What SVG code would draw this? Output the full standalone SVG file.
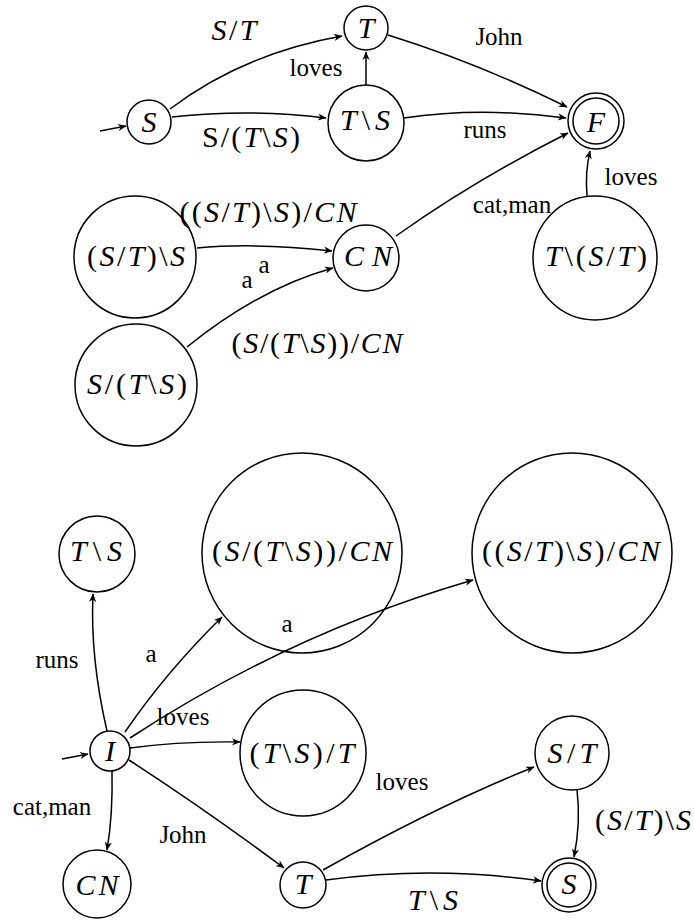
<svg xmlns="http://www.w3.org/2000/svg" width="694" height="920" viewBox="0 0 694 920">
<defs>
<marker id="ar" markerWidth="12" markerHeight="10" refX="0" refY="0" viewBox="-10 -5 12 10" orient="auto" markerUnits="userSpaceOnUse">
<path d="M0.5,0 L-8,-3.6 L-5.5,0 L-8,3.6 Z" fill="#000"/>
</marker>
<style>
.n{fill:none;stroke:#000;stroke-width:1.5}
.e{fill:none;stroke:#000;stroke-width:1.5;marker-end:url(#ar)}
.m{font-family:"Liberation Serif","Times New Roman",serif;font-style:italic;font-size:30px;fill:#000;text-anchor:middle}
.u{font-style:normal}
.t{font-family:"Liberation Serif","Times New Roman",serif;font-size:25px;fill:#000;text-anchor:middle}
</style>
</defs>
<rect width="694" height="920" fill="#fff"/>

<g id="connectors">
<path class="e" d="M100,131 L126,126"/>
<path class="e" d="M170,109 Q243.5,53.5 342,36"/>
<path class="e" d="M172,117 Q250.5,108.5 326,118"/>
<path class="e" d="M366,85 L366,52"/>
<path class="e" d="M388,35 Q478,63 567,107"/>
<path class="e" d="M404,118 Q481,106.5 566,118"/>
<path class="e" d="M396,236 Q475,180 568,133"/>
<path class="e" d="M587,196 Q585,172 590,151"/>
<path class="e" d="M197,248 Q255.5,242.5 332,251"/>
<path class="e" d="M187,347 Q260,288 333,268"/>

<path class="e" d="M62,759 L88,754"/>
<path class="e" d="M107,731 Q90,657.5 93,594"/>
<path class="e" d="M125,732 Q166.5,671.5 222,617"/>
<path class="e" d="M130,738 Q290.5,633 473,580"/>
<path class="e" d="M130,748 Q181,741 240,742"/>
<path class="e" d="M112,771 Q113,815 107,850"/>
<path class="e" d="M129,760 Q206,810 284,868"/>
<path class="e" d="M323,870 Q438,805.5 534,767"/>
<path class="e" d="M326,880 Q433,865.5 541,881"/>
<path class="e" d="M577,790 Q581,822 574,857"/>
</g>

<g id="edge-labels">
<text class="m" x="234" y="40" textLength="45">S<tspan class="u">/</tspan>T</text>
<text class="m" x="251" y="147" textLength="98"><tspan class="u">S/(</tspan>T<tspan class="u">\</tspan>S<tspan class="u">)</tspan></text>
<text class="t" x="316" y="76">loves</text>
<text class="t" x="499" y="45">John</text>
<text class="t" x="485" y="138">runs</text>
<text class="t" x="631" y="185">loves</text>
<text class="t" x="512" y="213">cat,man</text>
<text class="m" x="268" y="222" textLength="177"><tspan class="u">((</tspan>S<tspan class="u">/</tspan>T<tspan class="u">)\</tspan>S<tspan class="u">)/</tspan>CN</text>
<text class="t" x="247" y="288">a</text>
<text class="t" x="264" y="273">a</text>
<text class="m" x="317" y="353" textLength="171"><tspan class="u">(</tspan>S<tspan class="u">/(</tspan>T<tspan class="u">\</tspan>S<tspan class="u">))/</tspan>CN</text>

<text class="t" x="57" y="668">runs</text>
<text class="t" x="151" y="662">a</text>
<text class="t" x="287" y="632">a</text>
<text class="t" x="183" y="725">loves</text>
<text class="t" x="402" y="790">loves</text>
<text class="t" x="52" y="815">cat,man</text>
<text class="t" x="183" y="843">John</text>
<text class="m" x="643" y="830" textLength="96"><tspan class="u">(</tspan>S<tspan class="u">/</tspan>T<tspan class="u">)\</tspan>S</text>
<text class="m" x="433" y="910" textLength="50">T<tspan class="u">\</tspan>S</text>
</g>

<g id="node-S"><circle class="n" cx="149" cy="122" r="22"/><text class="m" x="149" y="132">S</text></g>
<g id="node-T"><circle class="n" cx="366" cy="28" r="22"/><text class="m" x="366" y="38">T</text></g>
<g id="node-TbS"><circle class="n" cx="366" cy="123" r="38"/><text class="m" x="365" y="130" textLength="50">T<tspan class="u">\</tspan>S</text></g>
<g id="node-F"><circle class="n" cx="596" cy="121" r="28"/><circle class="n" cx="596" cy="121" r="23"/><text class="m" x="596" y="132">F</text></g>
<g id="node-STbS"><circle class="n" cx="135" cy="257" r="61"/><text class="m" x="136" y="266" textLength="98"><tspan class="u">(</tspan>S<tspan class="u">/</tspan>T<tspan class="u">)\</tspan>S</text></g>
<g id="node-CN"><circle class="n" cx="366" cy="258" r="33"/><text class="m" x="368" y="266" textLength="48">CN</text></g>
<g id="node-SsTbS"><circle class="n" cx="136" cy="385" r="61"/><text class="m" x="137" y="394" textLength="100">S<tspan class="u">/(</tspan>T<tspan class="u">\</tspan>S<tspan class="u">)</tspan></text></g>
<g id="node-TbST"><circle class="n" cx="595" cy="258" r="62"/><text class="m" x="596" y="266" textLength="102">T<tspan class="u">\(</tspan>S<tspan class="u">/</tspan>T<tspan class="u">)</tspan></text></g>

<g id="node-I"><circle class="n" cx="110" cy="751" r="20"/><text class="m" x="110" y="761">I</text></g>
<g id="node-TbS2"><circle class="n" cx="97" cy="554" r="38"/><text class="m" x="96" y="561" textLength="52">T<tspan class="u">\</tspan>S</text></g>
<g id="node-SsTbS-CN"><circle class="n" cx="302" cy="553" r="100"/><text class="m" x="302" y="561" textLength="180"><tspan class="u">(</tspan>S<tspan class="u">/(</tspan>T<tspan class="u">\</tspan>S<tspan class="u">))/</tspan>CN</text></g>
<g id="node-STbS-CN"><circle class="n" cx="572" cy="553" r="100"/><text class="m" x="571" y="561" textLength="178"><tspan class="u">((</tspan>S<tspan class="u">/</tspan>T<tspan class="u">)\</tspan>S<tspan class="u">)/</tspan>CN</text></g>
<g id="node-TbS-T"><circle class="n" cx="303" cy="753" r="63"/><text class="m" x="302" y="763" textLength="105"><tspan class="u">(</tspan>T<tspan class="u">\</tspan>S<tspan class="u">)/</tspan>T</text></g>
<g id="node-ST"><circle class="n" cx="572" cy="753" r="37"/><text class="m" x="572" y="763" textLength="49">S<tspan class="u">/</tspan>T</text></g>
<g id="node-CN2"><circle class="n" cx="97" cy="884" r="34"/><text class="m" x="97" y="895" textLength="43">CN</text></g>
<g id="node-T2"><circle class="n" cx="303" cy="885" r="23"/><text class="m" x="303" y="894">T</text></g>
<g id="node-Sfin"><circle class="n" cx="569" cy="885" r="27"/><circle class="n" cx="569" cy="885" r="22"/><text class="m" x="569" y="894">S</text></g>
</svg>
